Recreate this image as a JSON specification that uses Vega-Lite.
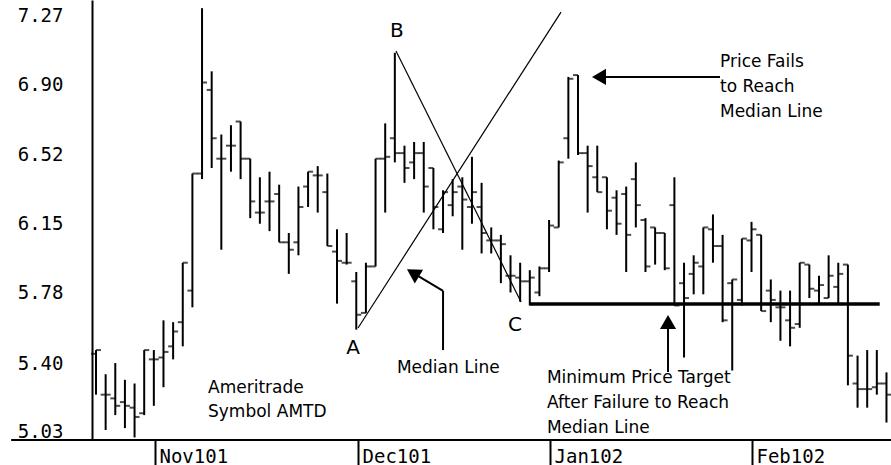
{
  "$schema": "https://vega.github.io/schema/vega-lite/v6.json",
  "width": 799,
  "height": 440,
  "autosize": {"type": "none"},
  "padding": {"left": 92, "top": 0, "right": 0, "bottom": 25},
  "background": "white",
  "config": {"view": {"stroke": null}, "font": "DejaVu Sans"},
  "datasets": {
    "bars": [
      {"i":0,"o":5.45,"h":5.47,"l":5.23,"c":5.47},
      {"i":1,"o":5.23,"h":5.34,"l":5.04,"c":5.23},
      {"i":2,"o":5.21,"h":5.40,"l":5.12,"c":5.17},
      {"i":3,"o":5.19,"h":5.31,"l":5.05,"c":5.17},
      {"i":4,"o":5.16,"h":5.29,"l":5.00,"c":5.11},
      {"i":5,"o":5.13,"h":5.47,"l":5.12,"c":5.47},
      {"i":6,"o":5.42,"h":5.47,"l":5.17,"c":5.42},
      {"i":7,"o":5.43,"h":5.63,"l":5.27,"c":5.46},
      {"i":8,"o":5.49,"h":5.62,"l":5.42,"c":5.57},
      {"i":9,"o":5.62,"h":5.94,"l":5.49,"c":5.94},
      {"i":10,"o":5.79,"h":6.42,"l":5.70,"c":6.42},
      {"i":11,"o":6.42,"h":7.31,"l":6.39,"c":6.91},
      {"i":12,"o":6.87,"h":6.97,"l":6.45,"c":6.61},
      {"i":13,"o":6.50,"h":6.63,"l":6.01,"c":6.50},
      {"i":14,"o":6.57,"h":6.68,"l":6.43,"c":6.57},
      {"i":15,"o":6.70,"h":6.70,"l":6.39,"c":6.50},
      {"i":16,"o":6.50,"h":6.50,"l":6.18,"c":6.27},
      {"i":17,"o":6.21,"h":6.40,"l":6.15,"c":6.21},
      {"i":18,"o":6.27,"h":6.43,"l":6.11,"c":6.27},
      {"i":19,"o":6.31,"h":6.36,"l":6.05,"c":6.05},
      {"i":20,"o":6.05,"h":6.10,"l":5.88,"c":6.01},
      {"i":21,"o":6.05,"h":6.35,"l":5.98,"c":6.24},
      {"i":22,"o":6.35,"h":6.43,"l":6.24,"c":6.43},
      {"i":23,"o":6.41,"h":6.46,"l":6.21,"c":6.41},
      {"i":24,"o":6.32,"h":6.42,"l":6.03,"c":6.03},
      {"i":25,"o":6.00,"h":6.12,"l":5.72,"c":5.95},
      {"i":26,"o":5.94,"h":6.10,"l":5.93,"c":5.94},
      {"i":27,"o":5.84,"h":5.89,"l":5.58,"c":5.66},
      {"i":28,"o":5.67,"h":5.94,"l":5.67,"c":5.92},
      {"i":29,"o":5.92,"h":6.50,"l":5.92,"c":6.50},
      {"i":30,"o":6.50,"h":6.69,"l":6.21,"c":6.51},
      {"i":31,"o":6.61,"h":7.07,"l":6.48,"c":6.53},
      {"i":32,"o":6.53,"h":6.57,"l":6.37,"c":6.45},
      {"i":33,"o":6.48,"h":6.59,"l":6.39,"c":6.53},
      {"i":34,"o":6.53,"h":6.59,"l":6.21,"c":6.35},
      {"i":35,"o":6.45,"h":6.45,"l":6.12,"c":6.24},
      {"i":36,"o":6.12,"h":6.33,"l":6.10,"c":6.32},
      {"i":37,"o":6.25,"h":6.39,"l":6.19,"c":6.32},
      {"i":38,"o":6.35,"h":6.40,"l":6.01,"c":6.28},
      {"i":39,"o":6.24,"h":6.51,"l":6.15,"c":6.32},
      {"i":40,"o":6.24,"h":6.37,"l":5.99,"c":6.10},
      {"i":41,"o":6.06,"h":6.13,"l":5.99,"c":6.06},
      {"i":42,"o":6.06,"h":6.09,"l":5.83,"c":6.04},
      {"i":43,"o":5.87,"h":5.98,"l":5.78,"c":5.87},
      {"i":44,"o":5.86,"h":5.94,"l":5.73,"c":5.84},
      {"i":45,"o":5.84,"h":5.90,"l":5.71,"c":5.86},
      {"i":46,"o":5.78,"h":5.92,"l":5.76,"c":5.91},
      {"i":47,"o":5.91,"h":6.17,"l":5.89,"c":6.14},
      {"i":48,"o":6.13,"h":6.49,"l":6.13,"c":6.48},
      {"i":49,"o":6.61,"h":6.94,"l":6.50,"c":6.93},
      {"i":50,"o":6.95,"h":6.95,"l":6.52,"c":6.53},
      {"i":51,"o":6.53,"h":6.57,"l":6.21,"c":6.46},
      {"i":52,"o":6.40,"h":6.57,"l":6.32,"c":6.32},
      {"i":53,"o":6.40,"h":6.40,"l":6.12,"c":6.22},
      {"i":54,"o":6.29,"h":6.33,"l":6.09,"c":6.15},
      {"i":55,"o":6.31,"h":6.35,"l":5.89,"c":6.09},
      {"i":56,"o":6.39,"h":6.48,"l":6.13,"c":6.25},
      {"i":57,"o":6.17,"h":6.18,"l":5.89,"c":5.92},
      {"i":58,"o":6.13,"h":6.13,"l":5.93,"c":6.10},
      {"i":59,"o":6.10,"h":6.10,"l":5.90,"c":5.91},
      {"i":60,"o":6.25,"h":6.40,"l":5.71,"c":5.71},
      {"i":61,"o":5.83,"h":5.94,"l":5.43,"c":5.75},
      {"i":62,"o":5.88,"h":5.98,"l":5.77,"c":5.94},
      {"i":63,"o":5.92,"h":6.13,"l":5.77,"c":6.13},
      {"i":64,"o":6.12,"h":6.20,"l":5.94,"c":6.03},
      {"i":65,"o":6.03,"h":6.09,"l":5.62,"c":5.63},
      {"i":66,"o":5.83,"h":5.85,"l":5.36,"c":5.85},
      {"i":67,"o":5.74,"h":6.07,"l":5.71,"c":6.07},
      {"i":68,"o":6.06,"h":6.16,"l":5.89,"c":6.12},
      {"i":69,"o":6.09,"h":6.09,"l":5.68,"c":5.68},
      {"i":70,"o":5.79,"h":5.85,"l":5.62,"c":5.74},
      {"i":71,"o":5.70,"h":5.79,"l":5.52,"c":5.70},
      {"i":72,"o":5.63,"h":5.79,"l":5.49,"c":5.59},
      {"i":73,"o":5.61,"h":5.94,"l":5.59,"c":5.94},
      {"i":74,"o":5.93,"h":5.93,"l":5.75,"c":5.80},
      {"i":75,"o":5.79,"h":5.87,"l":5.72,"c":5.82},
      {"i":76,"o":5.75,"h":5.98,"l":5.75,"c":5.87},
      {"i":77,"o":5.81,"h":5.94,"l":5.72,"c":5.88},
      {"i":78,"o":5.93,"h":5.93,"l":5.28,"c":5.44},
      {"i":79,"o":5.29,"h":5.44,"l":5.16,"c":5.26},
      {"i":80,"o":5.26,"h":5.47,"l":5.16,"c":5.26},
      {"i":81,"o":5.27,"h":5.47,"l":5.23,"c":5.29},
      {"i":82,"o":5.29,"h":5.35,"l":5.08,"c":5.23}
    ],
    "thin": [
      {"x":31.12,"y":7.080,"x2":44.09,"y2":5.729},
      {"x":27.18,"y":5.589,"x2":48.24,"y2":7.289}
    ],
    "shafts": [
      {"x":36.0,"y":5.470,"x2":36.0,"y2":5.788},
      {"x":36.0,"y":5.788,"x2":33.09,"y2":5.879},
      {"x":64.73,"y":6.940,"x2":52.80,"y2":6.940},
      {"x":59.34,"y":5.352,"x2":59.34,"y2":5.589}
    ],
    "target": [
      {"x":45.0,"y":5.718,"x2":81.3,"y2":5.718}
    ],
    "baseline": [
      {"x":-8.8,"y":4.986,"x2":82.47,"y2":4.986}
    ],
    "letters": [
      {"x":26.66,"y":5.481,"t":"A"},
      {"x":31.22,"y":7.187,"t":"B"},
      {"x":43.46,"y":5.605,"t":"C"}
    ],
    "notes": [
      {"x":11.62,"y":5.239,"t":"Ameritrade"},
      {"x":11.62,"y":5.110,"t":"Symbol AMTD"},
      {"x":31.22,"y":5.347,"t":"Median Line"},
      {"x":64.73,"y":6.993,"t":"Price Fails"},
      {"x":64.73,"y":6.859,"t":"to Reach"},
      {"x":64.73,"y":6.724,"t":"Median Line"},
      {"x":46.78,"y":5.293,"t":"Minimum Price Target"},
      {"x":46.78,"y":5.158,"t":"After Failure to Reach"},
      {"x":46.78,"y":5.024,"t":"Median Line"}
    ]
  },
  "layer": [
    {
      "data": {"name": "bars"},
      "mark": {"type": "rule", "color": "black", "strokeWidth": 2},
      "encoding": {
        "x": {"field": "i", "type": "quantitative",
          "scale": {"domain": [-0.415, 82.47], "nice": false, "zero": false},
          "axis": {"values": [6.12, 27.18, 47.1, 68.05],
            "labelExpr": "datum.value < 10 ? 'Nov101' : datum.value < 30 ? 'Dec101' : datum.value < 50 ? 'Jan102' : 'Feb102'",
            "domain": false, "grid": false, "tickSize": 25, "tickWidth": 2, "tickColor": "black",
            "labelAlign": "left", "labelBaseline": "top", "labelPadding": -18, "labelOffset": 4,
            "labelFont": "DejaVu Sans Mono", "labelFontSize": 19, "labelColor": "black",
            "labelOverlap": false, "labelBound": false, "labelFlush": false, "title": null}},
        "y": {"field": "l", "type": "quantitative",
          "scale": {"domain": [4.986, 7.354], "nice": false, "zero": false},
          "axis": {"values": [5.03, 5.4, 5.78, 6.15, 6.52, 6.9, 7.27], "format": ".2f",
            "ticks": false, "tickSize": 0, "grid": false, "domainColor": "black", "domainWidth": 2,
            "labelFont": "DejaVu Sans Mono", "labelFontSize": 19, "labelColor": "black",
            "labelPadding": 29, "labelAlign": "right", "labelBaseline": "middle",
            "labelOverlap": false, "labelBound": false, "labelFlush": false, "title": null}},
        "y2": {"field": "h"}
      }
    },
    {
      "data": {"name": "bars"},
      "mark": {"type": "tick", "orient": "horizontal", "color": "black", "size": 5, "thickness": 2, "xOffset": -2.5},
      "encoding": {
        "x": {"field": "i", "type": "quantitative"},
        "y": {"field": "o", "type": "quantitative"}
      }
    },
    {
      "data": {"name": "bars"},
      "mark": {"type": "tick", "orient": "horizontal", "color": "black", "size": 5, "thickness": 2, "xOffset": 2.5},
      "encoding": {
        "x": {"field": "i", "type": "quantitative"},
        "y": {"field": "c", "type": "quantitative"}
      }
    },
    {
      "data": {"name": "thin"},
      "mark": {"type": "rule", "color": "black", "strokeWidth": 1.2},
      "encoding": {
        "x": {"field": "x", "type": "quantitative"},
        "y": {"field": "y", "type": "quantitative"},
        "x2": {"field": "x2"},
        "y2": {"field": "y2"}
      }
    },
    {
      "data": {"name": "shafts"},
      "mark": {"type": "rule", "color": "black", "strokeWidth": 2},
      "encoding": {
        "x": {"field": "x", "type": "quantitative"},
        "y": {"field": "y", "type": "quantitative"},
        "x2": {"field": "x2"},
        "y2": {"field": "y2"}
      }
    },
    {
      "data": {"name": "target"},
      "mark": {"type": "rule", "color": "black", "strokeWidth": 3.5},
      "encoding": {
        "x": {"field": "x", "type": "quantitative"},
        "y": {"field": "y", "type": "quantitative"},
        "x2": {"field": "x2"},
        "y2": {"field": "y2"}
      }
    },
    {
      "data": {"name": "baseline"},
      "mark": {"type": "rule", "color": "black", "strokeWidth": 2},
      "encoding": {
        "x": {"field": "x", "type": "quantitative"},
        "y": {"field": "y", "type": "quantitative"},
        "x2": {"field": "x2"},
        "y2": {"field": "y2"}
      }
    },
    {
      "data": {"values": [{"x": 32.88, "y": 5.885}]},
      "mark": {"type": "point", "shape": "triangle-up", "filled": true, "color": "black", "opacity": 1, "size": 260, "angle": 301},
      "encoding": {
        "x": {"field": "x", "type": "quantitative"},
        "y": {"field": "y", "type": "quantitative"}
      }
    },
    {
      "data": {"values": [{"x": 52.18, "y": 6.940}]},
      "mark": {"type": "point", "shape": "triangle-up", "filled": true, "color": "black", "opacity": 1, "size": 260, "angle": 270},
      "encoding": {
        "x": {"field": "x", "type": "quantitative"},
        "y": {"field": "y", "type": "quantitative"}
      }
    },
    {
      "data": {"values": [{"x": 59.34, "y": 5.621}]},
      "mark": {"type": "point", "shape": "triangle-up", "filled": true, "color": "black", "opacity": 1, "size": 260, "angle": 0},
      "encoding": {
        "x": {"field": "x", "type": "quantitative"},
        "y": {"field": "y", "type": "quantitative"}
      }
    },
    {
      "data": {"name": "letters"},
      "mark": {"type": "text", "font": "DejaVu Sans", "fontSize": 20, "align": "center", "baseline": "middle", "color": "black"},
      "encoding": {
        "x": {"field": "x", "type": "quantitative"},
        "y": {"field": "y", "type": "quantitative"},
        "text": {"field": "t"}
      }
    },
    {
      "data": {"name": "notes"},
      "mark": {"type": "text", "font": "DejaVu Sans", "fontSize": 17, "align": "left", "baseline": "alphabetic", "color": "black"},
      "encoding": {
        "x": {"field": "x", "type": "quantitative"},
        "y": {"field": "y", "type": "quantitative"},
        "text": {"field": "t"}
      }
    }
  ]
}
